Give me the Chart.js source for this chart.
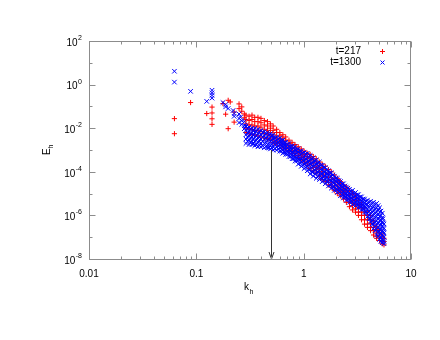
<!DOCTYPE html>
<html>
<head>
<meta charset="utf-8">
<script src="https://cdn.jsdelivr.net/npm/chart.js@4.4.0/dist/chart.umd.min.js"></script>
<style>
  body { margin: 0; background: #fff; }
  #wrap { width: 440px; height: 340px; }
</style>
</head>
<body>
<div id="wrap"><canvas id="spectrum" width="440" height="340"></canvas></div>
<script>
// series names (legend)
const seriesNames = ["t=217", "t=1300"];

// isolated low-k modes: [k_h, E_h]
const redLow = [
  [0.0625, 0.0275], [0.0625, 0.0056], [0.0884, 0.15], [0.125, 0.047],
  [0.14, 0.093], [0.14, 0.05], [0.14, 0.027], [0.14, 0.015],
  [0.177, 0.135], [0.1875, 0.044], [0.198, 0.19], [0.198, 0.0095],
  [0.207, 0.16], [0.225, 0.055], [0.225, 0.019], [0.25, 0.13],
  [0.25, 0.079], [0.265, 0.095], [0.265, 0.06], [0.28, 0.045], [0.28, 0.03]
];
const blueLow = [
  [0.0625, 4.1], [0.0625, 1.3], [0.0884, 0.49], [0.125, 0.17],
  [0.14, 0.55], [0.14, 0.42], [0.14, 0.32], [0.14, 0.24],
  [0.177, 0.15], [0.1875, 0.12], [0.1875, 0.095], [0.198, 0.08],
  [0.22, 0.065], [0.225, 0.047], [0.225, 0.035], [0.25, 0.045],
  [0.25, 0.028], [0.25, 0.018], [0.258, 0.032], [0.265, 0.022],
  [0.265, 0.015], [0.28, 0.02], [0.28, 0.013], [0.28, 0.0095]
];

// dense part of the spectrum: [k_h, E_h values at that k_h ...]
const redBand = [
  [0.29, 3.98e-2, 2.51e-2, 1.58e-2, 1.0e-2, 6.31e-3],
  [0.31, 3.55e-2, 2.24e-2, 1.41e-2, 8.91e-3, 5.62e-3],
  [0.33, 3.98e-2, 2.51e-2, 1.41e-2, 8.91e-3, 5.01e-3],
  [0.35, 3.16e-2, 2.0e-2, 1.26e-2, 7.94e-3, 5.01e-3],
  [0.375, 3.16e-2, 2.0e-2, 1.26e-2, 7.94e-3, 4.47e-3],
  [0.40, 2.82e-2, 1.78e-2, 1.12e-2, 7.08e-3, 3.98e-3],
  [0.43, 2.24e-2, 1.41e-2, 8.91e-3, 5.62e-3, 3.55e-3],
  [0.46, 2.0e-2, 1.26e-2, 7.94e-3, 5.01e-3, 3.16e-3],
  [0.49, 1.58e-2, 1.0e-2, 6.31e-3, 3.98e-3, 2.82e-3],
  [0.52, 1.26e-2, 7.94e-3, 5.01e-3, 3.55e-3, 2.24e-3],
  [0.56, 8.91e-3, 6.31e-3, 3.98e-3, 2.82e-3, 2.0e-3],
  [0.60, 6.31e-3, 4.47e-3, 3.16e-3, 2.24e-3, 1.58e-3],
  [0.64, 5.01e-3, 3.55e-3, 2.51e-3, 1.78e-3, 1.26e-3],
  [0.68, 3.98e-3, 2.82e-3, 2.0e-3, 1.41e-3, 1.12e-3],
  [0.73, 2.82e-3, 2.0e-3, 1.58e-3, 1.12e-3, 8.91e-4],
  [0.78, 2.24e-3, 1.58e-3, 1.26e-3, 8.91e-4, 7.08e-4],
  [0.83, 1.78e-3, 1.26e-3, 1.0e-3, 7.08e-4, 5.62e-4],
  [0.89, 1.41e-3, 1.0e-3, 7.94e-4, 5.62e-4, 4.47e-4],
  [0.95, 1.12e-3, 7.94e-4, 6.31e-4, 4.47e-4, 3.55e-4],
  [1.01, 8.91e-4, 6.31e-4, 5.01e-4, 3.55e-4, 2.82e-4],
  [1.08, 7.08e-4, 5.01e-4, 3.98e-4, 2.82e-4, 2.0e-4],
  [1.15, 6.31e-4, 4.47e-4, 3.16e-4, 2.24e-4, 1.41e-4],
  [1.23, 5.01e-4, 3.55e-4, 2.51e-4, 1.58e-4, 1.12e-4],
  [1.31, 3.98e-4, 2.82e-4, 1.78e-4, 1.26e-4, 8.91e-5],
  [1.40, 2.82e-4, 2.0e-4, 1.41e-4, 1.0e-4, 6.31e-5],
  [1.49, 2.24e-4, 1.58e-4, 1.0e-4, 7.08e-5, 4.47e-5],
  [1.59, 1.78e-4, 1.26e-4, 7.94e-5, 5.62e-5, 3.55e-5],
  [1.70, 1.26e-4, 8.91e-5, 5.62e-5, 3.98e-5, 2.51e-5],
  [1.81, 1.0e-4, 7.08e-5, 4.47e-5, 3.16e-5, 2.0e-5],
  [1.93, 7.08e-5, 5.01e-5, 3.16e-5, 2.24e-5, 1.41e-5],
  [2.06, 5.01e-5, 3.55e-5, 2.24e-5, 1.58e-5, 1.0e-5],
  [2.2, 3.55e-5, 2.51e-5, 1.58e-5, 1.12e-5, 7.94e-6],
  [2.35, 2.51e-5, 1.78e-5, 1.26e-5, 8.91e-6, 5.62e-6],
  [2.5, 2.0e-5, 1.41e-5, 8.91e-6, 6.31e-6, 3.98e-6],
  [2.67, 1.41e-5, 8.91e-6, 5.62e-6, 3.98e-6, 2.51e-6],
  [2.85, 1.0e-5, 6.31e-6, 4.47e-6, 2.82e-6, 1.78e-6],
  [3.04, 7.94e-6, 5.01e-6, 3.16e-6, 2.0e-6, 1.41e-6],
  [3.24, 5.01e-6, 3.16e-6, 2.24e-6, 1.41e-6, 1.0e-6],
  [3.46, 3.16e-6, 2.24e-6, 1.41e-6, 1.0e-6, 6.31e-7],
  [3.69, 2.24e-6, 1.41e-6, 1.0e-6, 6.31e-7, 3.98e-7],
  [3.93, 1.41e-6, 1.0e-6, 6.31e-7, 3.98e-7, 2.82e-7],
  [4.2, 1.0e-6, 6.31e-7, 4.47e-7, 2.82e-7, 2.0e-7],
  [4.48, 5.62e-7, 3.98e-7, 2.82e-7, 2.0e-7, 1.26e-7],
  [4.78, 3.16e-7, 2.24e-7, 1.58e-7, 1.12e-7, 8.91e-8],
  [5.1, 2.0e-7, 1.41e-7, 1.0e-7, 7.08e-8],
  [5.4, 1.26e-7, 8.91e-8, 6.31e-8, 5.01e-8],
  [5.6, 8.91e-8, 6.31e-8, 4.47e-8]
];
const blueBand = [
  [0.29, 1.26e-2, 7.94e-3, 5.01e-3, 3.16e-3, 2.0e-3],
  [0.30, 1.0e-2, 6.31e-3, 3.98e-3, 2.51e-3],
  [0.31, 1.12e-2, 7.08e-3, 4.47e-3, 2.82e-3, 1.78e-3],
  [0.32, 8.91e-3, 5.62e-3, 3.55e-3, 2.24e-3],
  [0.33, 1.0e-2, 6.31e-3, 3.98e-3, 2.51e-3, 1.78e-3],
  [0.34, 7.94e-3, 5.01e-3, 3.16e-3, 2.0e-3],
  [0.35, 1.0e-2, 6.31e-3, 3.98e-3, 2.51e-3, 1.58e-3],
  [0.362, 7.08e-3, 4.47e-3, 2.82e-3, 1.78e-3],
  [0.375, 8.91e-3, 5.62e-3, 3.55e-3, 2.24e-3, 1.41e-3],
  [0.387, 6.31e-3, 3.98e-3, 2.51e-3, 1.58e-3],
  [0.40, 7.94e-3, 5.01e-3, 3.16e-3, 2.0e-3, 1.41e-3],
  [0.415, 6.31e-3, 3.98e-3, 2.51e-3, 1.58e-3],
  [0.43, 7.08e-3, 4.47e-3, 3.16e-3, 2.0e-3, 1.26e-3],
  [0.445, 5.62e-3, 3.55e-3, 2.24e-3, 1.41e-3],
  [0.46, 6.31e-3, 3.98e-3, 2.82e-3, 1.78e-3, 1.26e-3],
  [0.475, 5.01e-3, 3.16e-3, 2.0e-3, 1.26e-3],
  [0.49, 5.62e-3, 3.98e-3, 2.51e-3, 1.58e-3, 1.12e-3],
  [0.505, 4.47e-3, 2.82e-3, 1.78e-3, 1.26e-3],
  [0.52, 5.01e-3, 3.55e-3, 2.24e-3, 1.58e-3, 1.0e-3],
  [0.54, 3.55e-3, 2.51e-3, 1.78e-3, 1.12e-3],
  [0.56, 3.98e-3, 2.82e-3, 2.0e-3, 1.41e-3, 1.0e-3],
  [0.58, 3.16e-3, 2.24e-3, 1.58e-3, 1.12e-3],
  [0.60, 3.55e-3, 2.51e-3, 1.78e-3, 1.26e-3, 8.91e-4],
  [0.62, 2.82e-3, 2.0e-3, 1.41e-3, 8.91e-4],
  [0.64, 2.82e-3, 2.0e-3, 1.41e-3, 1.0e-3, 7.08e-4],
  [0.66, 2.24e-3, 1.58e-3, 1.12e-3, 7.94e-4],
  [0.68, 2.24e-3, 1.58e-3, 1.12e-3, 7.94e-4, 6.31e-4],
  [0.705, 1.78e-3, 1.26e-3, 8.91e-4, 6.31e-4],
  [0.73, 2.0e-3, 1.41e-3, 1.0e-3, 7.08e-4, 5.01e-4],
  [0.755, 1.41e-3, 1.0e-3, 7.08e-4, 5.01e-4],
  [0.78, 1.58e-3, 1.12e-3, 7.94e-4, 5.62e-4, 3.98e-4],
  [0.805, 1.26e-3, 7.94e-4, 5.62e-4, 3.98e-4],
  [0.83, 1.41e-3, 1.0e-3, 6.31e-4, 4.47e-4, 3.16e-4],
  [0.86, 1.0e-3, 7.08e-4, 4.47e-4, 3.16e-4],
  [0.89, 1.12e-3, 7.94e-4, 5.01e-4, 3.55e-4, 2.24e-4],
  [0.92, 8.91e-4, 5.62e-4, 3.55e-4, 2.51e-4],
  [0.95, 8.91e-4, 6.31e-4, 3.98e-4, 2.82e-4, 1.78e-4],
  [0.98, 7.08e-4, 4.47e-4, 3.16e-4, 2.0e-4],
  [1.01, 7.94e-4, 5.01e-4, 3.16e-4, 2.24e-4, 1.41e-4],
  [1.045, 6.31e-4, 3.98e-4, 2.51e-4, 1.58e-4],
  [1.08, 7.08e-4, 4.47e-4, 2.82e-4, 1.78e-4, 1.12e-4],
  [1.115, 5.01e-4, 3.16e-4, 2.0e-4, 1.26e-4],
  [1.15, 5.62e-4, 3.55e-4, 2.24e-4, 1.41e-4, 7.94e-5],
  [1.19, 3.98e-4, 2.51e-4, 1.58e-4, 1.0e-4],
  [1.23, 4.47e-4, 2.82e-4, 1.78e-4, 1.0e-4, 6.31e-5],
  [1.27, 3.16e-4, 2.0e-4, 1.26e-4, 7.94e-5],
  [1.31, 3.55e-4, 2.24e-4, 1.41e-4, 8.91e-5, 5.01e-5],
  [1.355, 2.51e-4, 1.58e-4, 1.0e-4, 6.31e-5],
  [1.40, 2.82e-4, 1.78e-4, 1.12e-4, 7.08e-5, 4.47e-5],
  [1.445, 2.0e-4, 1.26e-4, 7.94e-5, 5.01e-5],
  [1.49, 2.0e-4, 1.26e-4, 7.94e-5, 5.01e-5, 3.55e-5],
  [1.54, 1.58e-4, 1.0e-4, 6.31e-5, 3.98e-5],
  [1.59, 1.58e-4, 1.0e-4, 6.31e-5, 4.47e-5, 2.82e-5],
  [1.645, 1.26e-4, 7.94e-5, 5.62e-5, 3.55e-5],
  [1.70, 1.12e-4, 7.94e-5, 5.01e-5, 3.55e-5, 2.24e-5],
  [1.755, 8.91e-5, 5.62e-5, 3.98e-5, 2.51e-5],
  [1.81, 8.91e-5, 6.31e-5, 3.98e-5, 2.82e-5, 1.78e-5],
  [1.87, 7.08e-5, 4.47e-5, 3.16e-5, 2.0e-5],
  [1.93, 6.31e-5, 4.47e-5, 3.16e-5, 2.0e-5, 1.41e-5],
  [2.0, 5.01e-5, 3.55e-5, 2.51e-5, 1.58e-5],
  [2.06, 5.01e-5, 3.55e-5, 2.24e-5, 1.58e-5, 1.12e-5],
  [2.13, 3.98e-5, 2.82e-5, 1.78e-5, 1.26e-5],
  [2.2, 3.55e-5, 2.51e-5, 1.78e-5, 1.26e-5, 7.94e-6],
  [2.27, 2.82e-5, 2.0e-5, 1.41e-5, 8.91e-6],
  [2.35, 2.82e-5, 2.0e-5, 1.26e-5, 8.91e-6, 6.31e-6],
  [2.42, 2.24e-5, 1.58e-5, 1.0e-5, 7.08e-6],
  [2.5, 2.0e-5, 1.41e-5, 1.0e-5, 7.08e-6, 5.01e-6],
  [2.58, 1.78e-5, 1.26e-5, 7.94e-6, 5.62e-6],
  [2.67, 1.58e-5, 1.12e-5, 7.94e-6, 5.62e-6, 3.98e-6],
  [2.76, 1.26e-5, 8.91e-6, 6.31e-6, 4.47e-6],
  [2.85, 1.41e-5, 1.0e-5, 6.31e-6, 4.47e-6, 3.16e-6],
  [2.95, 1.0e-5, 7.08e-6, 5.01e-6, 3.55e-6],
  [3.04, 1.12e-5, 7.94e-6, 5.62e-6, 3.98e-6, 2.82e-6],
  [3.14, 8.91e-6, 6.31e-6, 4.47e-6, 3.16e-6],
  [3.24, 8.91e-6, 6.31e-6, 4.47e-6, 3.16e-6, 2.24e-6],
  [3.35, 7.08e-6, 5.01e-6, 3.55e-6, 2.51e-6],
  [3.46, 7.08e-6, 5.01e-6, 3.55e-6, 2.51e-6, 1.78e-6],
  [3.57, 5.62e-6, 3.98e-6, 2.82e-6, 2.0e-6],
  [3.69, 5.62e-6, 3.98e-6, 2.82e-6, 2.0e-6, 1.41e-6],
  [3.81, 4.47e-6, 3.16e-6, 2.24e-6, 1.41e-6],
  [3.93, 5.01e-6, 3.16e-6, 2.0e-6, 1.26e-6, 8.91e-7],
  [4.06, 3.98e-6, 2.51e-6, 1.58e-6, 1.0e-6, 7.08e-7],
  [4.2, 4.47e-6, 2.82e-6, 1.78e-6, 1.12e-6, 7.08e-7, 5.01e-7],
  [4.34, 3.55e-6, 2.24e-6, 1.41e-6, 8.91e-7, 5.62e-7, 3.98e-7],
  [4.48, 3.98e-6, 2.51e-6, 1.58e-6, 1.0e-6, 6.31e-7, 3.98e-7, 2.51e-7],
  [4.63, 3.16e-6, 2.0e-6, 1.26e-6, 7.94e-7, 5.01e-7, 3.16e-7, 2.0e-7],
  [4.78, 3.55e-6, 2.24e-6, 1.41e-6, 8.91e-7, 5.62e-7, 3.55e-7, 2.24e-7, 1.26e-7],
  [4.94, 2.82e-6, 1.78e-6, 1.12e-6, 7.08e-7, 4.47e-7, 2.82e-7, 1.78e-7, 1.12e-7],
  [5.1, 2.24e-6, 1.41e-6, 8.91e-7, 5.62e-7, 3.55e-7, 2.24e-7, 1.41e-7, 7.94e-8],
  [5.25, 1.58e-6, 1.0e-6, 6.31e-7, 3.98e-7, 2.51e-7, 1.58e-7, 1.0e-7, 6.31e-8],
  [5.4, 1.26e-6, 7.94e-7, 5.01e-7, 3.16e-7, 2.0e-7, 1.26e-7, 7.94e-8, 5.62e-8],
  [5.5, 7.08e-7, 4.47e-7, 2.82e-7, 1.78e-7, 1.12e-7, 7.08e-8],
  [5.6, 3.98e-7, 2.51e-7, 1.58e-7, 1.0e-7, 6.31e-8, 5.01e-8]
];

// axes
const xTickValues = [0.01, 0.1, 1, 10];
const xTickLabels = ["0.01", "0.1", "1", "10"];
const yTickExps = [2, 0, -2, -4, -6, -8];
// arrow at k_h = 0.5
const arrowK = 0.5, arrowTop = 1e-3, arrowBottom = 1e-8;

const FONT = "'Liberation Sans', Arial, sans-serif";

function toPoints(low, band) {
  const pts = low.map(p => ({ x: p[0], y: p[1] }));
  band.forEach(row => {
    for (let i = 1; i < row.length; i++) pts.push({ x: row[0], y: row[i] });
  });
  return pts;
}

// gnuplot-like frame, ticks, labels, legend and arrow
const gnuFrame = {
  id: 'gnuFrame',
  afterDatasetsDraw(chart) {
    const { ctx, chartArea: a, scales: { x, y } } = chart;
    const L = a.left + 0.5, R = a.right - 0.5, T = a.top + 0.5, B = a.bottom + 0.5;
    ctx.save();

    // arrow
    const ax = Math.round(x.getPixelForValue(arrowK)) + 0.5;
    const ay1 = y.getPixelForValue(arrowTop), ay2 = y.getPixelForValue(arrowBottom);
    ctx.strokeStyle = '#333';
    ctx.lineWidth = 1;
    ctx.beginPath();
    ctx.moveTo(ax, ay1); ctx.lineTo(ax, ay2);
    ctx.moveTo(ax - 2.5, ay2 - 7); ctx.lineTo(ax, ay2); ctx.lineTo(ax + 2.5, ay2 - 7);
    ctx.stroke();

    // border
    ctx.strokeStyle = '#8c8c8c';
    ctx.strokeRect(L, T, R - L, B - T);

    // ticks
    ctx.beginPath();
    for (let d = -2; d <= 1; d++) {
      for (let m = 1; m <= 9; m++) {
        const v = m * Math.pow(10, d);
        if (v > 10.0001) break;
        const px = Math.round(x.getPixelForValue(v)) + 0.5;
        const len = m === 1 ? 6 : 3;
        ctx.moveTo(px, B); ctx.lineTo(px, B - len);
        ctx.moveTo(px, T); ctx.lineTo(px, T + len);
      }
    }
    for (let e = -8; e <= 2; e++) {
      const py = Math.round(y.getPixelForValue(Math.pow(10, e))) + 0.5;
      const len = e % 2 === 0 ? 6 : 3;
      ctx.moveTo(L, py); ctx.lineTo(L + len, py);
      ctx.moveTo(R, py); ctx.lineTo(R - len, py);
    }
    ctx.stroke();

    ctx.fillStyle = '#000';
    // x tick labels
    ctx.font = '10px ' + FONT;
    ctx.textAlign = 'center';
    ctx.textBaseline = 'middle';
    xTickValues.forEach((v, i) => {
      ctx.fillText(xTickLabels[i], x.getPixelForValue(v), a.bottom + 15);
    });

    // y tick labels 10^n
    yTickExps.forEach(e => {
      const py = y.getPixelForValue(Math.pow(10, e));
      const exp = String(e);
      ctx.font = '7px ' + FONT;
      const w = ctx.measureText(exp).width;
      const xr = a.left - 7;
      ctx.textAlign = 'left';
      ctx.fillText(exp, xr - w, py - 3);
      ctx.font = '10px ' + FONT;
      ctx.textAlign = 'right';
      ctx.fillText('10', xr - w - 0.5, py + 2);
    });

    // axis titles
    ctx.font = '10px ' + FONT;
    ctx.textAlign = 'left';
    ctx.fillText('k', 244, 287);
    ctx.font = '7px ' + FONT;
    ctx.fillText('h', 249.5, 292);

    ctx.save();
    ctx.translate(47, 151);
    ctx.rotate(-Math.PI / 2);
    ctx.font = '10px ' + FONT;
    ctx.fillText('E', -4, 0);
    ctx.font = '7px ' + FONT;
    ctx.fillText('h', 2.5, 4);
    ctx.restore();

    // legend
    ctx.font = '10px ' + FONT;
    ctx.textAlign = 'right';
    ctx.fillText(seriesNames[0], 361, 51);
    ctx.fillText(seriesNames[1], 361, 62);
    ctx.lineWidth = 1;
    ctx.beginPath();
    ctx.strokeStyle = '#ff0000';
    ctx.moveTo(380, 51.5); ctx.lineTo(385, 51.5);
    ctx.moveTo(382.5, 49); ctx.lineTo(382.5, 54);
    ctx.stroke();
    ctx.beginPath();
    ctx.strokeStyle = '#0000ff';
    ctx.moveTo(380.5, 60.5); ctx.lineTo(384.5, 64.5);
    ctx.moveTo(384.5, 60.5); ctx.lineTo(380.5, 64.5);
    ctx.stroke();

    ctx.restore();
  }
};

new Chart(document.getElementById('spectrum'), {
  type: 'scatter',
  data: {
    datasets: [
      {
        label: seriesNames[0],
        data: toPoints(redLow, redBand),
        pointStyle: 'cross',
        pointRadius: 2.6,
        borderColor: '#ff0000',
        borderWidth: 1,
        order: 1
      },
      {
        label: seriesNames[1],
        data: toPoints(blueLow, blueBand),
        pointStyle: 'crossRot',
        pointRadius: 3.2,
        borderColor: '#0000ff',
        borderWidth: 1,
        order: 0
      }
    ]
  },
  options: {
    responsive: false,
    animation: false,
    layout: { padding: { left: 89, right: 29, top: 41, bottom: 81 } },
    scales: {
      x: { type: 'logarithmic', min: 0.01, max: 10, display: false },
      y: { type: 'logarithmic', min: 1e-8, max: 100, display: false }
    },
    plugins: {
      legend: { display: false },
      tooltip: { enabled: false }
    }
  },
  plugins: [gnuFrame]
});
</script>
</body>
</html>
